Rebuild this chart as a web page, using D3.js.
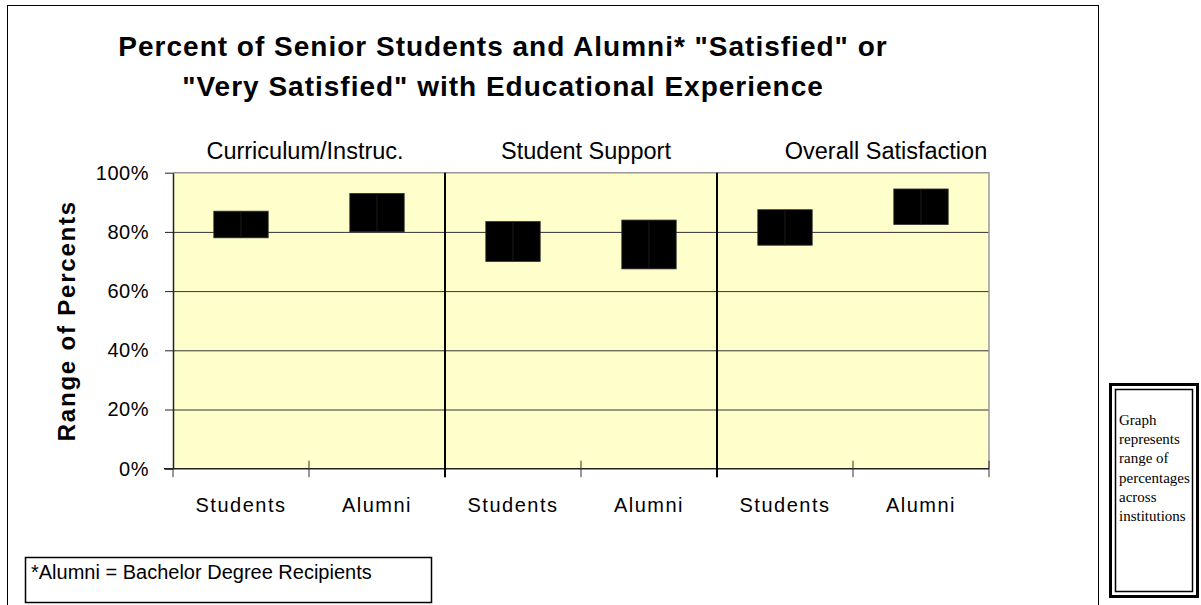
<!DOCTYPE html>
<html>
<head>
<meta charset="utf-8">
<script src="https://cdn.jsdelivr.net/npm/d3@7"></script>
<style>
  body { margin: 0; background: #fff; }
  text { font-family: Arial, "Liberation Sans", sans-serif; fill: #000; }
  .serif { font-family: "Times New Roman", "Liberation Serif", serif; }
</style>
</head>
<body>
<svg id="chart"></svg>
<script>
// Data (percent ranges across institutions)
var groups = ["Curriculum/Instruc.", "Student Support", "Overall Satisfaction"]
var respondents = ["Students", "Alumni"]
var lowPct  = [78, 80, 70, 67.5, 75.5, 82.5]
var highPct = [87, 93, 83.5, 84, 87.5, 94.5]
var yTicks = [0, 20, 40, 60, 80, 100]
var titleLines = ['Percent of Senior Students and Alumni* "Satisfied" or',
                  '"Very Satisfied" with Educational Experience']
var noteLines = ["Graph", "represents", "range of", "percentages", "across", "institutions"]

// one row per bar
var rows = []
groups.forEach(function(g, gi) {
  respondents.forEach(function(r, ri) {
    var i = gi * respondents.length + ri
    rows.push({ key: g + "|" + r, group: g, who: r, lo: lowPct[i], hi: highPct[i] })
  })
})

var W = 1201, H = 605
var plot = { left: 173, right: 989, top: 172.7, bottom: 468.7 }

var svg = d3.select("#chart").attr("width", W).attr("height", H)

// outer chart frame
svg.append("rect")
  .attr("x", 7.5).attr("y", 5.5)
  .attr("width", 1091).attr("height", 620)
  .attr("fill", "none").attr("stroke", "#000").attr("stroke-width", 1)

var x = d3.scaleBand()
  .domain(rows.map(d => d.key))
  .range([plot.left, plot.right])
  .padding(0)

var y = d3.scaleLinear()
  .domain([0, 100])
  .range([plot.bottom, plot.top])

// plot background
svg.append("rect")
  .attr("x", plot.left).attr("y", plot.top)
  .attr("width", plot.right - plot.left).attr("height", plot.bottom - plot.top)
  .attr("fill", "#FFFFCC")

// grid lines
svg.append("g")
  .attr("transform", "translate(" + plot.left + ",0)")
  .call(d3.axisLeft(y).tickValues(yTicks.filter(v => v > 0 && v < 100))
    .tickSize(-(plot.right - plot.left)).tickFormat(""))
  .call(g => g.select(".domain").remove())
  .selectAll("line").attr("stroke", "#333")

// top and right border (grey)
svg.append("path")
  .attr("d", "M" + plot.left + "," + plot.top + "H" + plot.right + "V" + plot.bottom)
  .attr("fill", "none").attr("stroke", "#999").attr("stroke-width", 1.5)

// y axis
var yAxis = svg.append("g")
  .attr("transform", "translate(" + plot.left + ",0)")
  .call(d3.axisLeft(y).tickValues(yTicks).tickFormat(d => d + "%")
    .tickSizeInner(8).tickSizeOuter(0).tickPadding(16))
yAxis.select(".domain").attr("stroke", "#222").attr("stroke-width", 1.5)
yAxis.selectAll(".tick line").attr("stroke", "#222")
yAxis.selectAll("text")
  .style("font-size", "20px").attr("letter-spacing", "0.5px")
  .attr("font-family", null)

// bottom axis line
svg.append("line")
  .attr("x1", plot.left - 9).attr("x2", plot.right)
  .attr("y1", plot.bottom).attr("y2", plot.bottom)
  .attr("stroke", "#222").attr("stroke-width", 1.5)

// ticks at band boundaries
var bounds = rows.map(d => x(d.key)).concat([plot.right])
svg.append("g").selectAll("line")
  .data(bounds)
  .enter().append("line")
  .attr("x1", d => d).attr("x2", d => d)
  .attr("y1", (d, i) => i === 0 ? plot.bottom : plot.bottom - 8)
  .attr("y2", plot.bottom + 8.5)
  .attr("stroke", "#333").attr("stroke-width", 1)

// group dividers
var groupStarts = groups.map(g => x(g + "|" + respondents[0]))
svg.append("g").selectAll("line")
  .data(groupStarts.slice(1))
  .enter().append("line")
  .attr("x1", d => d).attr("x2", d => d)
  .attr("y1", plot.top).attr("y2", plot.bottom + 8.5)
  .attr("stroke", "#000").attr("stroke-width", 2)

// category labels
svg.append("g").selectAll("text")
  .data(rows)
  .enter().append("text")
  .attr("x", d => x(d.key) + x.bandwidth() / 2)
  .attr("y", 512)
  .attr("text-anchor", "middle")
  .style("font-size", "20px").attr("letter-spacing", "1.5px")
  .text(d => d.who)

// group labels above plot
var groupShift = [-4, 5, 33]
svg.append("g").selectAll("text")
  .data(groups)
  .enter().append("text")
  .attr("x", (d, i) => groupStarts[i] + x.bandwidth() + groupShift[i])
  .attr("y", 159)
  .attr("text-anchor", "middle")
  .style("font-size", "23.5px")
  .text(d => d)

// range bars
var bw = x.bandwidth() * 0.4
var bars = svg.append("g").selectAll("g")
  .data(rows)
  .enter().append("g")
bars.append("rect")
  .attr("x", d => x(d.key) + (x.bandwidth() - bw) / 2)
  .attr("y", d => y(d.hi))
  .attr("width", bw)
  .attr("height", d => y(d.lo) - y(d.hi))
  .attr("fill", "#000").attr("stroke", "#333").attr("stroke-width", 0.8)
bars.append("line")
  .attr("x1", d => x(d.key) + x.bandwidth() / 2)
  .attr("x2", d => x(d.key) + x.bandwidth() / 2)
  .attr("y1", d => y(d.hi)).attr("y2", d => y(d.lo))
  .attr("stroke", "#222").attr("stroke-width", 0.8)

// title
svg.append("g").selectAll("text")
  .data(titleLines)
  .enter().append("text")
  .attr("x", 503)
  .attr("y", (d, i) => 56 + i * 40)
  .attr("text-anchor", "middle")
  .style("font-size", "28px").style("font-weight", "bold")
  .attr("letter-spacing", "1px")
  .text(d => d)

// y axis title
svg.append("text")
  .attr("transform", "translate(75," + ((plot.top + plot.bottom) / 2) + ") rotate(-90)")
  .attr("text-anchor", "middle")
  .style("font-size", "24px").style("font-weight", "bold")
  .attr("letter-spacing", "1.8px")
  .text("Range of Percents")

// footnote box
svg.append("rect")
  .attr("x", 25.5).attr("y", 557.5).attr("width", 406).attr("height", 45)
  .attr("fill", "#fff").attr("stroke", "#000").attr("stroke-width", 1.5)
svg.append("text")
  .attr("x", 31).attr("y", 579)
  .style("font-size", "20px")
  .text("*Alumni = Bachelor Degree Recipients")

// note box with double border
svg.append("rect")
  .attr("x", 1110.5).attr("y", 384.5).attr("width", 87).attr("height", 212)
  .attr("fill", "#fff").attr("stroke", "#000").attr("stroke-width", 3)
svg.append("rect")
  .attr("x", 1115.5).attr("y", 389.5).attr("width", 77).attr("height", 202)
  .attr("fill", "none").attr("stroke", "#000").attr("stroke-width", 1.5)
svg.append("g").selectAll("text")
  .data(noteLines)
  .enter().append("text")
  .attr("class", "serif")
  .attr("x", 1119)
  .attr("y", (d, i) => 425 + i * 19.2)
  .style("font-size", "15px")
  .text(d => d)
</script>
</body>
</html>
